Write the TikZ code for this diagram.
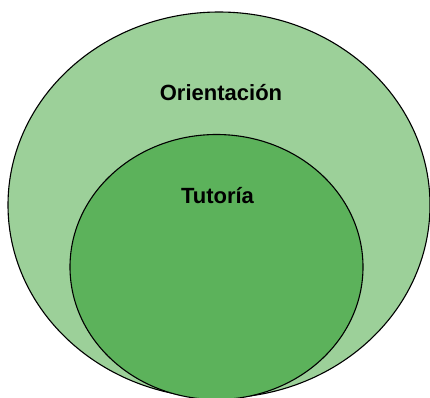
\documentclass[tikz,border=0pt]{standalone}
\usepackage{fontspec}
\setmainfont{Liberation Sans}
\usetikzlibrary{shapes.geometric}
\definecolor{outerg}{RGB}{156,208,153}
\definecolor{innerg}{RGB}{92,178,91}
\tikzset{
  blob/.style={ellipse, draw=black, line width=1.1pt, inner sep=0pt},
  lbl/.style={anchor=base, inner sep=0pt, font=\bfseries\fontsize{22}{26}\selectfont}
}
\begin{document}
\begin{tikzpicture}[x=1pt,y=-1pt]
\useasboundingbox (0,0) rectangle (430,397);
\clip (0,0) rectangle (430,397);
\node[blob, fill=outerg, minimum width=422pt, minimum height=386pt] (outer) at (219,205) {};
\node[blob, fill=innerg, minimum width=293pt, minimum height=265pt] (inner) at (216.5,267) {};
\node[lbl] (orient) at (221,100.5) {Orientación};
\node[lbl] (tut) at (217.5,203) {Tutoría};
\end{tikzpicture}
\end{document}
